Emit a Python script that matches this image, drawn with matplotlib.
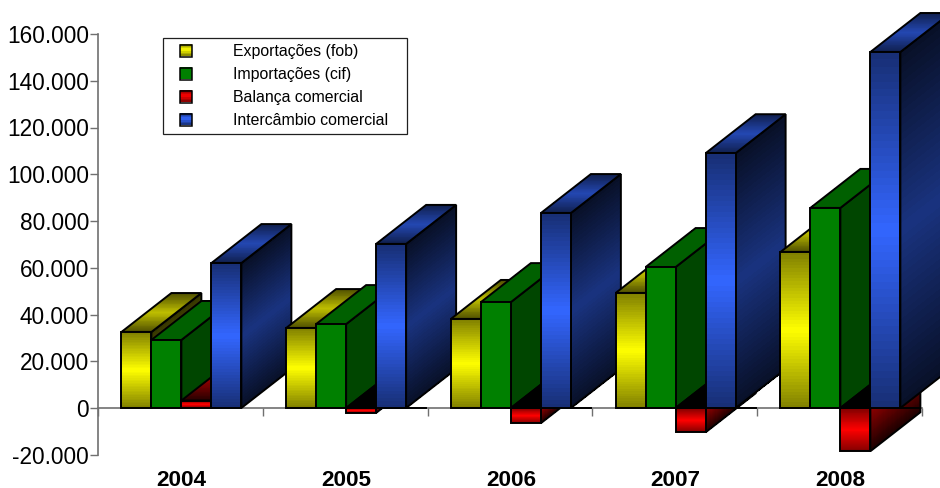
import numpy as np
import matplotlib
matplotlib.use('Agg')
import matplotlib.pyplot as plt
from matplotlib.patches import Polygon, Rectangle

plt.rcParams['font.family'] = ['Liberation Sans', 'DejaVu Sans']

years = ['2004', '2005', '2006', '2007', '2008']
series_names = ['Exportações (fob)', 'Importações (cif)', 'Balança comercial', 'Intercâmbio comercial']
exportacoes = [32500, 34200, 38100, 49200, 66700]
importacoes = [29100, 35900, 45300, 60300, 85600]
balanca = [3200, -2100, -6500, -10400, -18500]
intercambio = [62000, 70200, 83400, 109000, 152300]
yticks = [-20000, 0, 20000, 40000, 60000, 80000, 100000, 120000, 140000, 160000]
ylabels = ['-20.000', '0', '20.000', '40.000', '60.000', '80.000', '100.000', '120.000', '140.000', '160.000']

all_series = [exportacoes, importacoes, balanca, intercambio]
base_colors = [(1, 1, 0), (0, 0.5, 0), (1, 0, 0), (0.2, 0.4, 1)]
# brightness (edge, middle) per face: front, side, top
levels = [
    [(0.5, 1.0), (0.2, 0.45), (0.3, 0.75)],
    [(1.0, 1.0), (0.55, 0.55), (0.75, 0.75)],
    [(0.5, 1.0), (0.2, 0.5), (0.15, 0.55)],
    [(0.45, 1.0), (0.15, 0.5), (0.3, 0.7)],
]

cat_px = 164.75
shift = 1 / cat_px
bar_w = 30 / cat_px
depth_x = 50 / cat_px
depth_y = 39 / 2.3375 * 1000

fig = plt.figure(figsize=(9.4, 4.88), dpi=100)
ax = fig.add_axes([98 / 940, 1 - 454.75 / 488, 5 * cat_px / 940, (454.75 - 34) / 488])
order = [10]


def ramp(base, lev, n=48):
    t = (np.arange(n) + 0.5) / n
    k = lev[0] + (lev[1] - lev[0]) * (1 - np.abs(2 * t - 1))
    return k[:, None] * np.array(base)[None, :]


def face(pts, X, Y, cols):
    order[0] += 1
    ax.pcolormesh(X, Y, cols[:, None, :], shading='flat', antialiased=False,
                  linewidth=0, zorder=order[0], clip_on=False)
    order[0] += 1
    ax.add_patch(Polygon(pts, closed=True, fill=False, edgecolor='black', linewidth=1.4,
                         zorder=order[0], clip_on=False))


def draw_bar(x, v, base, lev):
    top = max(v, 0)
    low = min(v, 0)
    h = top - low
    side_cols = ramp(base, lev[1])
    top_cols = ramp(base, lev[2])
    if v < 0:
        # the cap of a negative bar sits at zero and is black
        side_cols = np.linspace(0.1, 0.55, len(side_cols))[:, None] * np.array(base)
        top_cols = top_cols * 0
    s = np.linspace(0, 1, 49)[:, None]
    r = np.array([[0.0, 1.0]])
    # side: ramp runs bottom to top, skewed with the depth
    face([(x + bar_w, low), (x + bar_w + depth_x, low + depth_y),
          (x + bar_w + depth_x, top + depth_y), (x + bar_w, top)],
         x + bar_w + depth_x * r + 0 * s, low + depth_y * r + h * s, side_cols)
    # top: ramp runs front to back
    face([(x, top), (x + bar_w, top), (x + bar_w + depth_x, top + depth_y), (x + depth_x, top + depth_y)],
         x + bar_w * r + depth_x * s, top + 0 * r + depth_y * s, top_cols)
    # front: ramp runs bottom to top
    face([(x, low), (x + bar_w, low), (x + bar_w, top), (x, top)],
         x + bar_w * r + 0 * s, low + 0 * r + h * s, ramp(base, lev[0]))
    if v < 0:
        order[0] += 1
        ax.plot([x, x + bar_w + depth_x], [0, 0], color='black', lw=1.4,
                zorder=order[0], clip_on=False)


for i in range(len(years)):
    for j in range(len(all_series)):
        bx = i + shift - 2 * bar_w + j * bar_w
        draw_bar(bx, all_series[j][i], base_colors[j], levels[j])

ax.set_xlim(-0.5, 4.5)
ax.set_ylim(-20000, 160000)
ax.patch.set_visible(False)
ax.spines['top'].set_visible(False)
ax.spines['right'].set_visible(False)
ax.spines['bottom'].set_position(('data', 0))
for s in ['left', 'bottom']:
    ax.spines[s].set_color('#707070')
    ax.spines[s].set_linewidth(1.2)
    ax.spines[s].set_zorder(1)
ax.set_xticks(np.arange(-0.5, 5, 1))
ax.set_xticklabels([])
ax.set_yticks(yticks)
ax.set_yticklabels(ylabels)
ax.tick_params(axis='x', length=5.5, width=1.0, color='#707070', direction='out')
ax.tick_params(axis='y', length=5.5, width=1.0, color='#707070', direction='out', labelsize=16.3, pad=1)
ax.set_axisbelow(True)
for i, y in enumerate(years):
    ax.text(i + shift, -33400, y, ha='center', va='baseline', fontsize=16.2, fontweight='bold', clip_on=False)


# legend box in figure pixels
def px(x, y):
    return x / 940, 1 - y / 488


fig.add_artist(Rectangle(px(163, 134), 244 / 940, 96 / 488, transform=fig.transFigure,
                         facecolor='white', edgecolor='#202020', linewidth=0.9, zorder=500))
rows = [51, 74, 97, 120]
for k, name in enumerate(series_names):
    yy = rows[k]
    cols = ramp(base_colors[k], levels[k][0], n=8)
    for m in range(8):
        fig.add_artist(Rectangle(px(180, yy + 6 - (m + 1) * 12 / 8), 12 / 940, (12 / 8) / 488,
                                 transform=fig.transFigure, facecolor=cols[m],
                                 edgecolor='none', zorder=501))
    fig.add_artist(Rectangle(px(180, yy + 6), 12 / 940, 12 / 488, transform=fig.transFigure,
                             fill=False, edgecolor='black', linewidth=1.1, zorder=502))
    fig.text(233 / 940, 1 - (yy + 0.5) / 488, name, ha='left', va='center', fontsize=11.4, zorder=503)

fig.savefig('out.png', dpi=100)
